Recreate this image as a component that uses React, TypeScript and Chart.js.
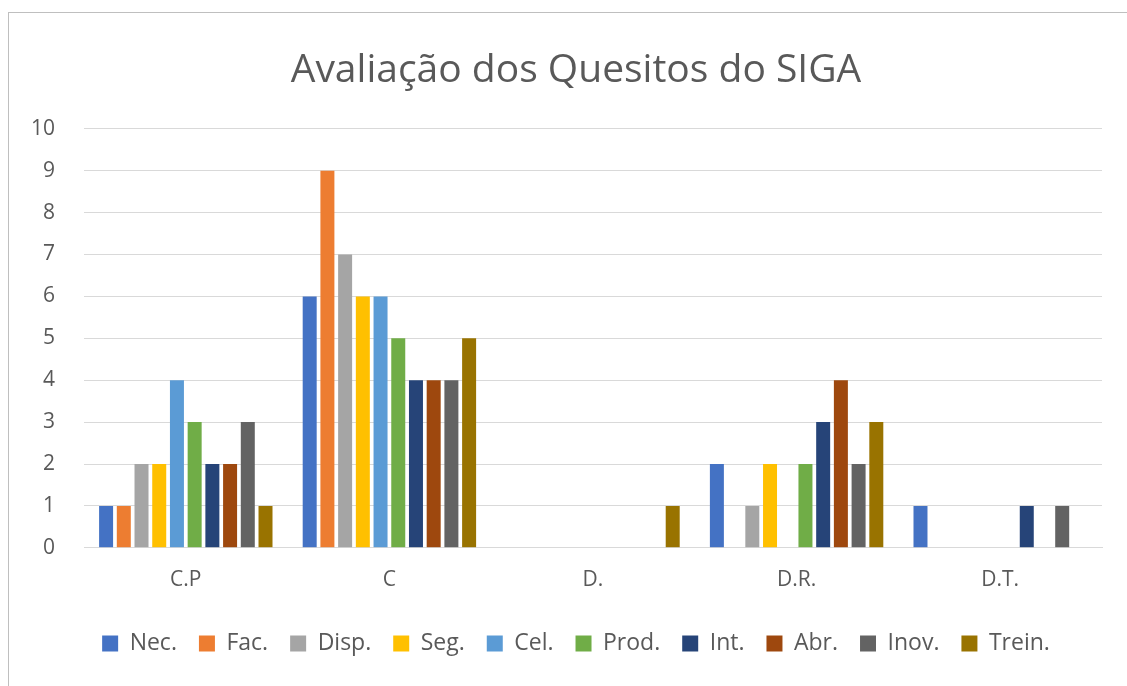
import React, { useEffect, useRef } from "react";
import { Chart, registerables } from "chart.js";

Chart.register(...registerables);

const categories = ["C.P", "C", "D.", "D.R.", "D.T."];
const seriesNames = ["Nec.", "Fac.", "Disp.", "Seg.", "Cel.", "Prod.", "Int.", "Abr.", "Inov.", "Trein."];
const seriesColors = ["#4472C4", "#ED7D31", "#A5A5A5", "#FFC000", "#5B9BD5", "#70AD47", "#264478", "#9E480E", "#636363", "#997300"];
const nec = [1, 6, 0, 2, 1];
const fac = [1, 9, 0, 0, 0];
const disp = [2, 7, 0, 1, 0];
const seg = [2, 6, 0, 2, 0];
const cel = [4, 6, 0, 0, 0];
const prod = [3, 5, 0, 2, 0];
const intg = [2, 4, 0, 3, 1];
const abr = [2, 4, 0, 4, 0];
const inov = [3, 4, 0, 2, 1];
const trein = [1, 5, 1, 3, 0];
const seriesValues = [nec, fac, disp, seg, cel, prod, intg, abr, inov, trein];
const yTicks = [0, 1, 2, 3, 4, 5, 6, 7, 8, 9, 10];

const FONT = "'Open Sans', sans-serif";
const TEXT = "#595959";

const shiftPlugin = {
  id: "shiftTitleLegend",
  afterLayout(chart: any) {
    const dx = 21;
    for (const box of [chart.titleBlock, chart.legend]) {
      if (box) {
        box.left += dx;
        box.right += dx;
      }
    }
  },
};

export default function App() {
  const ref = useRef<HTMLCanvasElement | null>(null);
  useEffect(() => {
    if (!ref.current) return;
    const chart = new Chart(ref.current, {
      type: "bar",
      data: {
        labels: categories,
        datasets: seriesNames.map((n, i) => ({
          label: n,
          data: seriesValues[i],
          backgroundColor: seriesColors[i],
          borderWidth: 0,
          categoryPercentage: 0.87,
          barPercentage: 0.79,
        })),
      },
      options: {
        responsive: false,
        animation: false,
        layout: { padding: { top: 35, left: 8, right: 25, bottom: 21 } },
        plugins: {
          title: {
            display: true,
            text: "Avaliação dos Quesitos do SIGA",
            color: TEXT,
            font: { family: FONT, size: 39, weight: "normal" },
            padding: { top: 12, bottom: 35 },
          },
          legend: {
            position: "bottom",
            labels: {
              color: TEXT,
              font: { family: FONT, size: 23 },
              boxWidth: 16,
              boxHeight: 16,
              padding: 22,
            },
          },
          tooltip: { enabled: false },
        },
        scales: {
          x: {
            grid: { display: false, drawTicks: false },
            border: { display: true, color: "#d9d9d9", width: 1 },
            ticks: { color: TEXT, font: { family: FONT, size: 21 }, padding: 20 },
            afterFit: (scale: any) => {
              scale.height -= 3;
            },
          },
          y: {
            min: 0,
            max: 10,
            afterBuildTicks: (scale: any) => {
              scale.ticks = yTicks.map((v) => ({ value: v }));
            },
            afterFit: (scale: any) => {
              scale.width = 76;
            },
            grid: { color: "#d9d9d9", drawTicks: false },
            border: { display: false },
            ticks: { color: TEXT, font: { family: FONT, size: 21 }, padding: 29 },
          },
        },
      },
      plugins: [shiftPlugin],
    });
    return () => chart.destroy();
  }, []);
  return (
    <>
      <div
        style={{
          position: "fixed",
          left: 8,
          top: 12,
          right: -5,
          bottom: -5,
          border: "1px solid #bfbfbf",
        }}
      />
      <canvas
        ref={ref}
        width={1127}
        height={686}
        style={{ position: "fixed", left: 0, top: 0, width: 1127, height: 686 }}
      />
    </>
  );
}
